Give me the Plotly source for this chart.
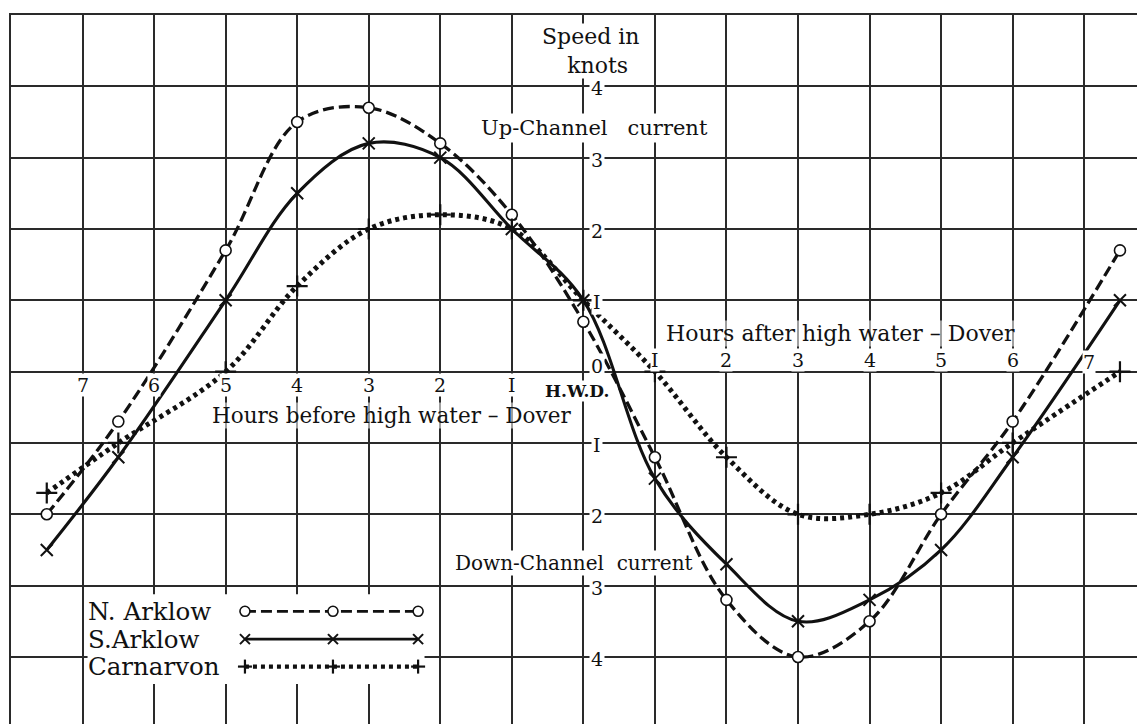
import plotly.graph_objects as go

# ---------------- data ----------------
hours = [-7.5, -6.5, -5, -4, -3, -2, -1, 0, 1, 2, 3, 4, 5, 6, 7.5]
n_arklow = [-2.0, -0.7, 1.7, 3.5, 3.7, 3.2, 2.2, 0.7, -1.2, -3.2, -4.0, -3.5, -2.0, -0.7, 1.7]
s_arklow = [-2.5, -1.2, 1.0, 2.5, 3.2, 3.0, 2.0, 1.0, -1.5, -2.7, -3.5, -3.2, -2.5, -1.2, 1.0]
carnarvon = [-1.7, -1.0, 0.0, 1.2, 2.0, 2.2, 2.0, 1.0, 0.0, -1.2, -2.0, -2.0, -1.7, -1.0, 0.0]
series_names = ["N. Arklow", "S.Arklow", "Carnarvon"]

before_ticks = [-7, -6, -5, -4, -3, -2, -1]
before_labels = ["7", "6", "5", "4", "3", "2", "I"]
after_ticks = [1, 2, 3, 4, 5, 6, 7]
after_labels = ["I", "2", "3", "4", "5", "6", "7"]
speed_ticks = [4, 3, 2, 1, 0, -1, -2, -3, -4]
speed_labels = ["4", "3", "2", "I", "0", "I", "2", "3", "4"]

# ---------------- styles ----------------
INK = "#111111"
GRID = "#2a2a2a"
FONT = "DejaVu Serif"
styles = [
    dict(dash="11px,5px", width=3.3, symbol="circle", msize=11, mcolor="white", mlw=1.6),
    dict(dash="solid", width=3.1, symbol="x-thin", msize=12, mcolor=INK, mlw=2),
    dict(dash="4px,4px", width=5, symbol="cross-thin", msize=15, mcolor=INK, mlw=2.2),
]
series = [n_arklow, s_arklow, carnarvon]

fig = go.Figure()
for name, vals, st in zip(series_names, series, styles):
    fig.add_trace(go.Scatter(
        x=hours, y=vals, name=name, mode="lines+markers",
        line=dict(color=INK, width=st["width"], dash=st["dash"], shape="spline", smoothing=1.0),
        marker=dict(symbol=st["symbol"], size=st["msize"], color=st["mcolor"],
                    line=dict(color=INK, width=st["mlw"])),
        showlegend=False, cliponaxis=False,
    ))

ann = []
def label(x, y, text, size=20, bg="white", bold=False, xanchor="center", pad=2):
    t = f"<b>{text}</b>" if bold else text
    ann.append(dict(x=x, y=y, xref="x", yref="y", text=t, showarrow=False,
                    font=dict(family=FONT, size=size, color=INK),
                    bgcolor=bg, borderpad=pad, xanchor=xanchor, yanchor="middle"))

# speed labels on central axis
for v, t in zip(speed_ticks, speed_labels):
    label(0.19, (0.078 if v == 0 else v - 0.03), t, size=19, pad=1)
# hour labels
for v, t in zip(before_ticks, before_labels):
    label(v, -0.19, t, size=19, pad=0)
for v, t in zip(after_ticks[:-1], after_labels[:-1]):
    label(v, 0.16, t, size=19, pad=0)
label(7.07, 0.14, after_labels[-1], size=19, pad=0)
label(-0.09, -0.272, "H.W.D.", size=17, bold=True, pad=0)

semi = "rgba(255,255,255,0.55)"
label(-2.68, -0.615, "Hours before high water \u2013 Dover", size=21.5, bg=semi, pad=0)
label(3.6, 0.54, "Hours after high water \u2013 Dover", size=22, bg=semi, pad=0)
label(0.1, 4.49, "Speed in<br>\u00a0\u00a0knots", size=22, pad=0)
label(0.16, 3.42, "Up-Channel\u00a0\u00a0 current", size=21, pad=2)
label(-0.13, -2.68, "Down-Channel\u00a0 current", size=20, pad=0)

# ---------------- legend (drawn manually) ----------------
shapes = []
shapes.append(dict(type="rect", xref="x", yref="y", x0=-6.93, x1=-2.22, y0=-3.12, y1=-4.38,
                   fillcolor="white", line=dict(width=0), layer="above"))
leg_rows = [-3.36, -3.75, -4.135]
leg_x = [-4.73, -3.50, -2.31]
for name, yy, st in zip(series_names, leg_rows, styles):
    ann.append(dict(x=-6.95, y=yy, xref="x", yref="y", text=name, showarrow=False,
                    font=dict(family=FONT, size=24.5, color=INK), xanchor="left", yanchor="middle"))
    shapes.append(dict(type="line", xref="x", yref="y", x0=leg_x[0], x1=leg_x[-1], y0=yy, y1=yy,
                       line=dict(color=INK, width=st["width"] * 0.85, dash=st["dash"]), layer="above"))
    for lx in leg_x:
        if st["symbol"] == "circle":
            shapes.append(dict(type="circle", xref="x", yref="y", xsizemode="pixel", ysizemode="pixel",
                               xanchor=lx, yanchor=yy, x0=-5, x1=5, y0=-5, y1=5,
                               fillcolor="white", line=dict(color=INK, width=1.6), layer="above"))
        elif st["symbol"] == "x-thin":
            for sgn in (1, -1):
                shapes.append(dict(type="line", xref="x", yref="y", xsizemode="pixel", ysizemode="pixel",
                                   xanchor=lx, yanchor=yy, x0=-5, x1=5, y0=-5 * sgn, y1=5 * sgn,
                                   line=dict(color=INK, width=2), layer="above"))
        else:
            shapes.append(dict(type="line", xref="x", yref="y", xsizemode="pixel", ysizemode="pixel",
                               xanchor=lx, yanchor=yy, x0=-7, x1=7, y0=0, y1=0,
                               line=dict(color=INK, width=2.2), layer="above"))
            shapes.append(dict(type="line", xref="x", yref="y", xsizemode="pixel", ysizemode="pixel",
                               xanchor=lx, yanchor=yy, x0=0, x1=0, y0=-7, y1=7,
                               line=dict(color=INK, width=2.2), layer="above"))

# page body adds an 8px offset, so the figure is 8px smaller than the window
fig.update_layout(
    width=1137, height=716,
    margin=dict(l=3, r=0, t=7, b=0, autoexpand=False),
    paper_bgcolor="white", plot_bgcolor="white",
    annotations=ann, shapes=shapes,
    font=dict(family=FONT, color=INK),
)
fig.update_xaxes(range=[-8, 7.85], dtick=1, tick0=0, showgrid=True, gridcolor=GRID, gridwidth=1.7,
                 zeroline=True, zerolinecolor=GRID, zerolinewidth=1.7, showticklabels=False,
                 ticks="", side="top", showline=True, linecolor=GRID, linewidth=1.7, automargin=False)
fig.update_yaxes(range=[-4.94, 5], dtick=1, tick0=0, showgrid=True, gridcolor=GRID, gridwidth=1.7,
                 zeroline=True, zerolinecolor=GRID, zerolinewidth=1.7, showticklabels=False,
                 ticks="", showline=True, linecolor=GRID, linewidth=1.7, automargin=False)

fig.write_html("out.html")
